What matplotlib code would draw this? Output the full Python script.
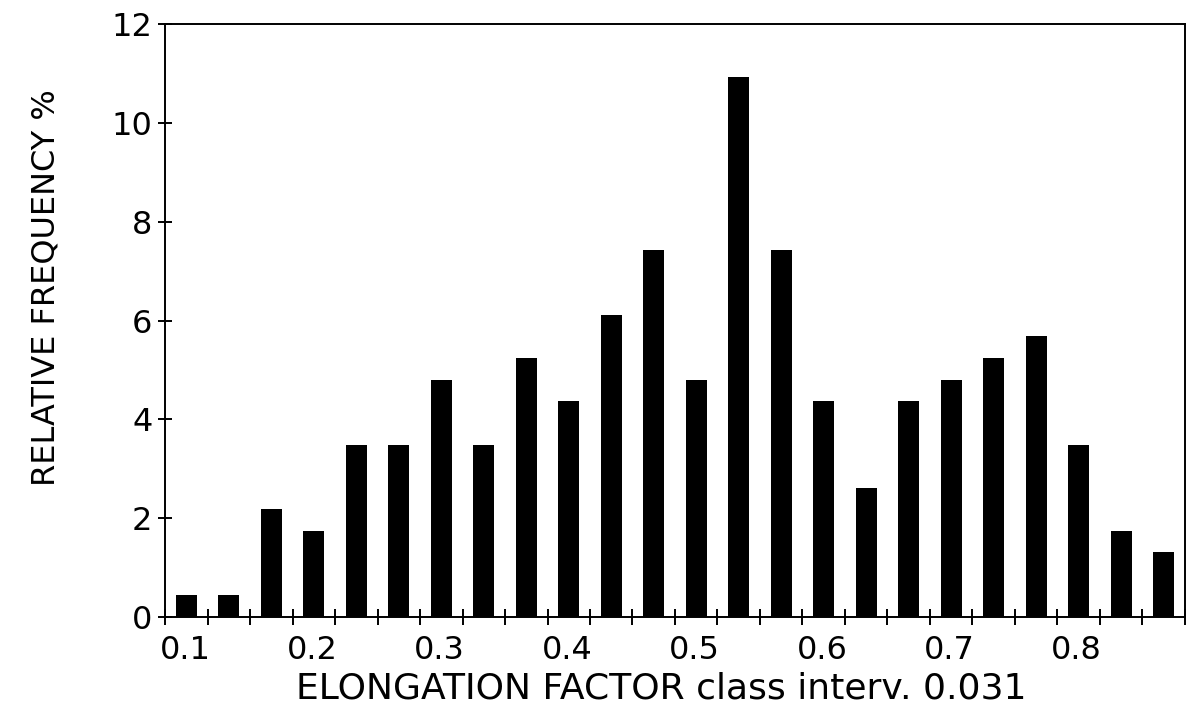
import numpy as np
import matplotlib
matplotlib.use("Agg")
import matplotlib.pyplot as plt

# relative frequency (%) per elongation class
freq = [0.44, 0.44, 2.18, 1.75, 3.49, 3.49, 4.80, 3.49, 5.24, 4.37, 6.11, 7.42,
        4.80, 10.92, 7.42, 4.37, 2.62, 4.37, 4.80, 5.24, 5.68, 3.49, 1.75, 1.31]
bin_start = 0.0843
bin_width = 0.03336
xtick_vals = [0.1, 0.2, 0.3, 0.4, 0.5, 0.6, 0.7, 0.8]
xtick_labels = ["0.1", "0.2", "0.3", "0.4", "0.5", "0.6", "0.7", "0.8"]
yticks = [0, 2, 4, 6, 8, 10, 12]

plt.rcParams['font.family'] = ['DejaVu Sans']

edges = bin_start + bin_width * np.arange(len(freq) + 1)
centers = (edges[:-1] + edges[1:]) / 2

fig = plt.figure(figsize=(11.89, 7.10), dpi=100)
ax = fig.add_axes([0.1388, 0.131, 0.8578, 0.835])
ax.bar(centers, freq, width=bin_width * 0.49, color='black', edgecolor='black', linewidth=0)

ax.set_xlim(edges[0], edges[-1])
ax.set_ylim(0, 12)
ax.set_xticks(xtick_vals)
ax.set_xticklabels(xtick_labels)
ax.set_xticks(edges, minor=True)
ax.set_yticks(yticks)
ax.tick_params(axis='x', which='major', length=0, pad=13, labelsize=23)
ax.tick_params(axis='x', which='minor', direction='inout', length=12, width=1.4)
ax.tick_params(axis='y', direction='inout', length=10, width=1.4, labelsize=23, pad=4)
for s in ax.spines.values():
    s.set_linewidth(1.4)

ax.set_xlabel("ELONGATION FACTOR class interv. 0.031", fontsize=26, labelpad=4)
ax.xaxis.label.set_x(0.487)
ax.set_ylabel("RELATIVE FREQUENCY %", fontsize=23, labelpad=36)
ax.yaxis.label.set_y(0.555)

fig.savefig("out.png", dpi=100)
